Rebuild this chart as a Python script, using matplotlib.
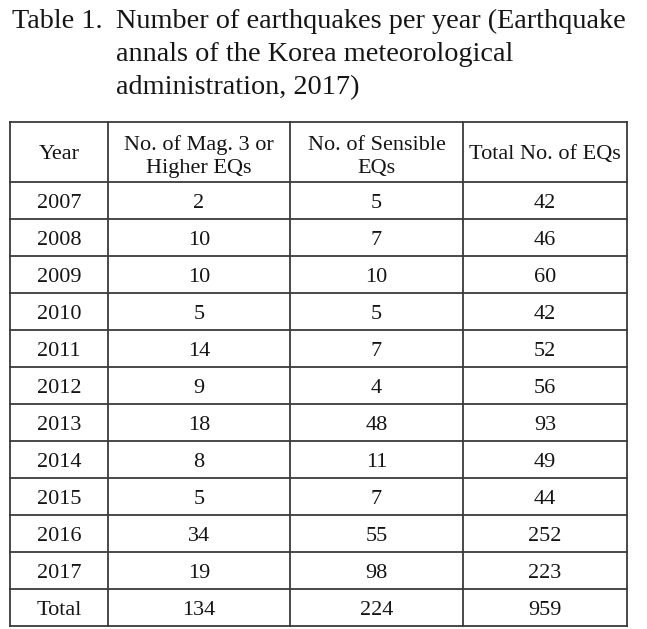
import matplotlib
matplotlib.use("Agg")
import matplotlib.pyplot as plt

title_head = "Table 1."
title_lines = ["Number of earthquakes per year (Earthquake",
               "annals of the Korea meteorological",
               "administration, 2017)"]
headers = [["Year"], ["No. of Mag. 3 or", "Higher EQs"], ["No. of Sensible", "EQs"], ["Total No. of EQs"]]
years = ["2007", "2008", "2009", "2010", "2011", "2012", "2013", "2014", "2015", "2016", "2017", "Total"]
mag3 = [2, 10, 10, 5, 14, 9, 18, 8, 5, 34, 19, 134]
sensible = [5, 7, 10, 5, 7, 4, 48, 11, 7, 55, 98, 224]
total = [42, 46, 60, 42, 52, 56, 93, 49, 44, 252, 223, 959]

W, H = 647, 629
fig = plt.figure(figsize=(W / 100, H / 100), dpi=100)
ax = fig.add_axes([0, 0, 1, 1])
ax.set_xlim(0, W)
ax.set_ylim(H, 0)
ax.axis("off")

font = "Liberation Serif"
tcol = "#151515"
# title
title_fs = 20.3
ax.text(12, 28, title_head, fontsize=title_fs, family=font, va="baseline", ha="left", color=tcol)
for i, line in enumerate(title_lines):
    ax.text(116, 28 + 33 * i, line, fontsize=title_fs, family=font, va="baseline", ha="left", color=tcol)

# table geometry
col_edges = [10, 108, 290, 463, 627]
top = 122
header_h = 60
row_h = 37
n = len(years)
row_edges = [top, top + header_h] + [top + header_h + row_h * (i + 1) for i in range(n)]
lc = "#3a3a3a"
for x in col_edges:
    ax.plot([x, x], [row_edges[0], row_edges[-1]], color=lc, lw=1.3, solid_capstyle="projecting")
for y in row_edges:
    ax.plot([col_edges[0], col_edges[-1]], [y, y], color=lc, lw=1.3, solid_capstyle="projecting")

cell_fs = 16
centers = [(col_edges[i] + col_edges[i + 1]) / 2 for i in range(4)]
for c, h in zip(centers, headers):
    if len(h) == 1:
        ax.text(c, top + 37, h[0], fontsize=cell_fs, family=font, ha="center", va="baseline", color=tcol)
    else:
        ax.text(c, top + 28, h[0], fontsize=cell_fs, family=font, ha="center", va="baseline", color=tcol)
        ax.text(c, top + 51, h[1], fontsize=cell_fs, family=font, ha="center", va="baseline", color=tcol)
for i in range(n):
    yb = row_edges[i + 1] + 26
    vals = [years[i], str(mag3[i]), str(sensible[i]), str(total[i])]
    for c, v in zip(centers, vals):
        ax.text(c, yb, v, fontsize=cell_fs, family=font, ha="center", va="baseline", color=tcol)

fig.savefig("out.png", dpi=100)
